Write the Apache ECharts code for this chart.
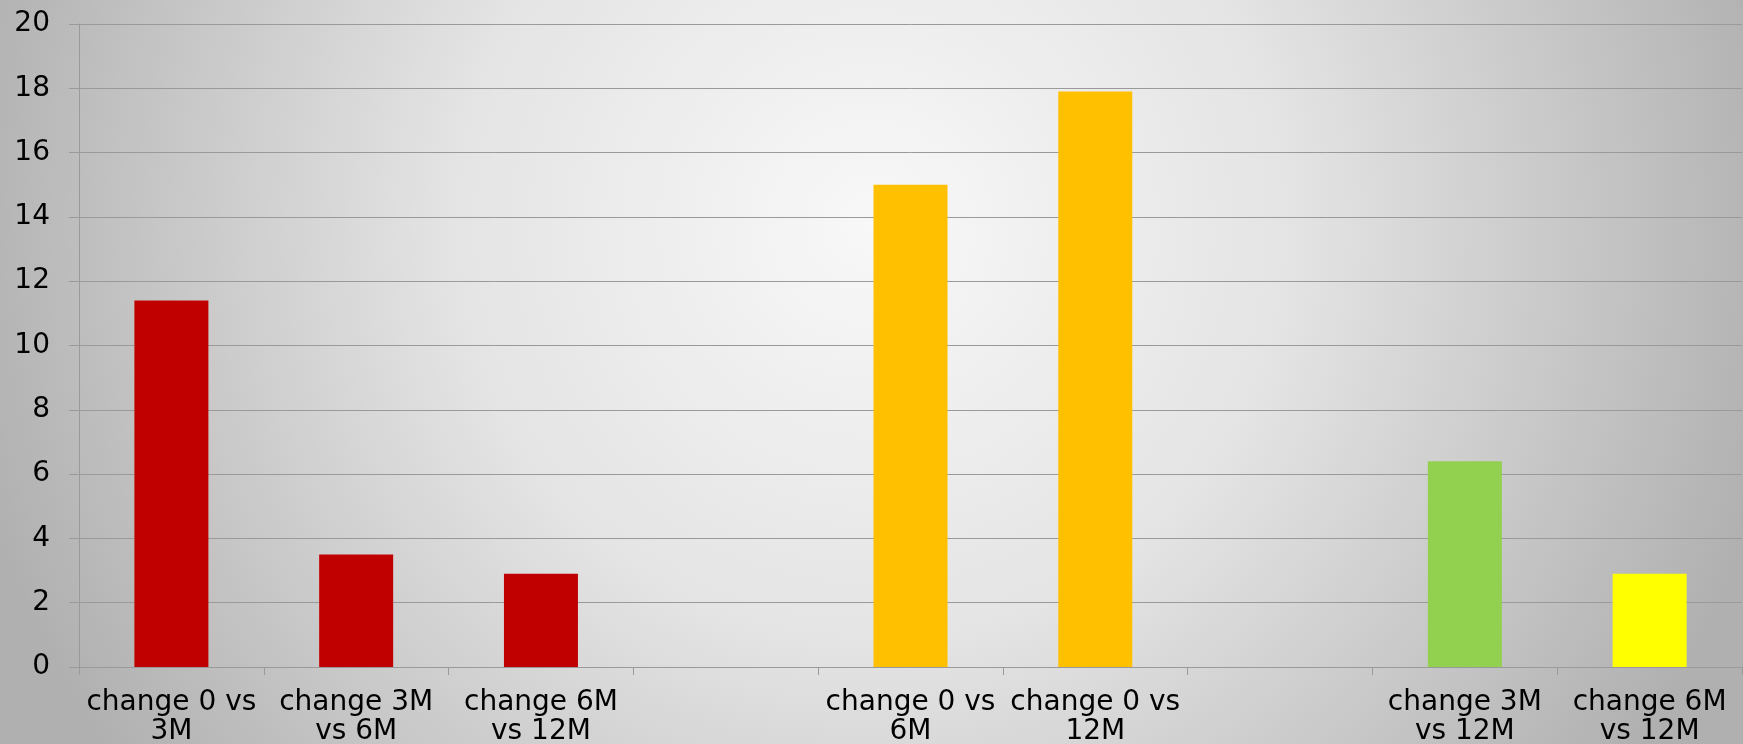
<!DOCTYPE html>
<html lang="en">
<head>
    <meta charset="UTF-8">
    <title>Change comparison</title>
    <style>
        html, body { margin: 0; padding: 0; }
        #chart { width: 1743px; height: 744px; }
    </style>
</head>
<body>
    <div id="chart"></div>
    <script src="https://cdn.jsdelivr.net/npm/echarts@6/dist/echarts.min.js"></script>
    <script type="text/javascript">
       // categories (empty ones are the gaps between groups)
       var categories = [
           'change 0 vs\n3M', 'change 3M\nvs 6M', 'change 6M\nvs 12M', '',
           'change 0 vs\n6M', 'change 0 vs\n12M', '',
           'change 3M\nvs 12M', 'change 6M\nvs 12M'
       ];
       var values = [11.4, 3.5, 2.9, null, 15.0, 17.9, null, 6.4, 2.9];
       var yTicks = { min: 0, max: 20, interval: 2 };

       var barColors = ['#c00000', '#c00000', '#c00000', '#c00000',
                        '#ffc000', '#ffc000', '#ffc000', '#92d050', '#ffff00'];

       var myChart = echarts.init(document.getElementById('chart'));

       var barData = values.map(function (v, i) {
           return { value: v, itemStyle: { color: barColors[i] } };
       });

       var option = {
           animation: false,
           backgroundColor: {
               type: 'radial', x: 0.5, y: 0.3, r: 1.25,
               colorStops: [
                   { offset: 0, color: '#f8f8f8' },
                   { offset: 0.45, color: '#e4e4e4' },
                   { offset: 1, color: '#b0b0b0' }
               ]
           },
           grid: {
               left: 79, right: 1, top: 24, bottom: 77,
               containLabel: false,
               outerBoundsMode: 'none'
           },
           xAxis: {
               type: 'category',
               data: categories,
               axisLine: { lineStyle: { color: '#9a9a9a', width: 1 } },
               axisTick: { show: true, length: 8, lineStyle: { color: '#9a9a9a' } },
               axisLabel: {
                   interval: 0,
                   margin: 21,
                   color: '#000',
                   fontFamily: 'DejaVu Sans',
                   fontSize: 28,
                   lineHeight: 29
               }
           },
           yAxis: {
               type: 'value',
               min: yTicks.min, max: yTicks.max, interval: yTicks.interval,
               axisLine: { show: true, lineStyle: { color: '#9a9a9a' } },
               axisTick: { show: true, length: 10, lineStyle: { color: '#9a9a9a' } },
               splitLine: { lineStyle: { color: '#9a9a9a', width: 1 } },
               axisLabel: {
                   margin: 29,
                   color: '#000',
                   fontFamily: 'DejaVu Sans',
                   fontSize: 28
               }
           },
           series: [{
               type: 'bar',
               data: barData,
               barWidth: 74
           }]
       };
       myChart.setOption(option);
    </script>
</body>
</html>
